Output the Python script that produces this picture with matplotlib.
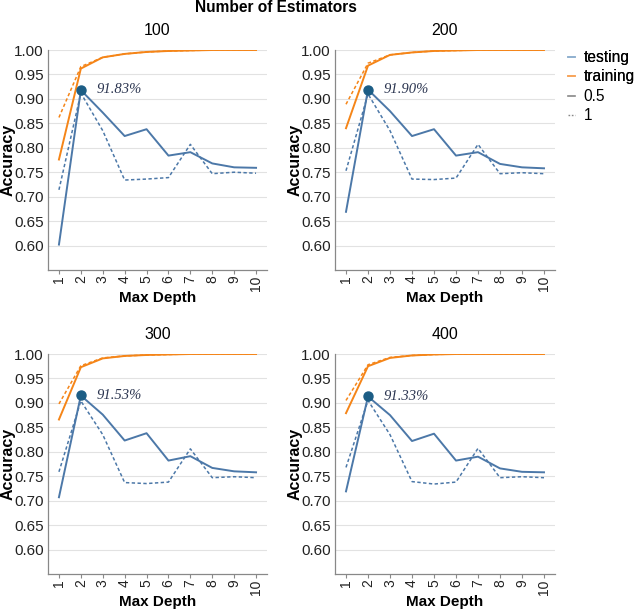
import matplotlib
matplotlib.use("Agg")
import matplotlib.pyplot as plt
from matplotlib.lines import Line2D

plt.rcParams['font.family'] = ['Liberation Sans', 'DejaVu Sans']

depths = [1, 2, 3, 4, 5, 6, 7, 8, 9, 10]
estimators = [100, 200, 300, 400]

# testing accuracy, learning rate 0.5 (solid) and 1 (dashed)
test_05 = {
    100: [0.602, 0.918, 0.872, 0.824, 0.838, 0.784, 0.791, 0.768, 0.760, 0.759],
    200: [0.669, 0.919, 0.875, 0.824, 0.838, 0.784, 0.791, 0.767, 0.760, 0.758],
    300: [0.707, 0.915, 0.876, 0.823, 0.838, 0.782, 0.791, 0.767, 0.760, 0.758],
    400: [0.719, 0.913, 0.875, 0.822, 0.837, 0.782, 0.790, 0.766, 0.759, 0.758],
}
test_1 = {
    100: [0.714, 0.912, 0.835, 0.734, 0.736, 0.739, 0.807, 0.747, 0.750, 0.748],
    200: [0.753, 0.910, 0.835, 0.736, 0.735, 0.738, 0.807, 0.747, 0.749, 0.747],
    300: [0.759, 0.904, 0.835, 0.737, 0.735, 0.738, 0.806, 0.747, 0.749, 0.747],
    400: [0.768, 0.905, 0.835, 0.739, 0.734, 0.738, 0.807, 0.747, 0.749, 0.747],
}
train_05 = {
    100: [0.776, 0.962, 0.985, 0.992, 0.996, 0.998, 0.999, 1.0, 1.0, 1.0],
    200: [0.840, 0.968, 0.990, 0.995, 0.998, 0.999, 1.0, 1.0, 1.0, 1.0],
    300: [0.866, 0.973, 0.991, 0.996, 0.998, 0.999, 1.0, 1.0, 1.0, 1.0],
    400: [0.879, 0.975, 0.992, 0.997, 0.999, 1.0, 1.0, 1.0, 1.0, 1.0],
}
train_1 = {
    100: [0.862, 0.966, 0.985, 0.992, 0.996, 0.998, 0.999, 1.0, 1.0, 1.0],
    200: [0.889, 0.973, 0.990, 0.995, 0.998, 0.999, 1.0, 1.0, 1.0, 1.0],
    300: [0.898, 0.976, 0.992, 0.996, 0.998, 0.999, 1.0, 1.0, 1.0, 1.0],
    400: [0.905, 0.978, 0.993, 0.997, 0.999, 1.0, 1.0, 1.0, 1.0, 1.0],
}
best = {100: 0.9183, 200: 0.9190, 300: 0.9153, 400: 0.9133}

blue = '#4c78a8'
orange = '#f58518'
dot_color = '#1c5d85'

W, H = 635, 613
fig = plt.figure(figsize=(W / 100, H / 100), dpi=100)

# panel boxes in pixels: left, top, right, bottom
boxes = {100: (48, 50, 267, 270), 200: (335, 50, 555, 270),
         300: (48, 354, 267, 574), 400: (335, 354, 555, 574)}

dash = (0, (2.2, 1.6))
for n in estimators:
    l, t, r, b = boxes[n]
    ax = fig.add_axes([l / W, 1 - b / H, (r - l) / W, (b - t) / H])
    ax.plot(depths, test_05[n], color=blue, lw=1.4)
    ax.plot(depths, test_1[n], color=blue, lw=1.1, ls=dash)
    ax.plot(depths, train_05[n], color=orange, lw=1.4)
    ax.plot(depths, train_1[n], color=orange, lw=1.1, ls=dash)
    ax.plot([2], [best[n]], 'o', color=dot_color, ms=6.5, zorder=5)
    ax.annotate('%.2f%%' % (best[n] * 100), (2, best[n]), xytext=(11, 0),
                textcoords='offset points', va='center', ha='left',
                fontsize=10.5, style='italic', family='Liberation Serif',
                color='#2b3550')
    ax.set_xlim(0.5, 10.5)
    ax.set_ylim(0.55, 1.0)
    ax.set_xticks(depths)
    ax.set_xticklabels([str(d) for d in depths], rotation=90, fontsize=10)
    ax.set_yticks([0.60, 0.65, 0.70, 0.75, 0.80, 0.85, 0.90, 0.95, 1.00])
    ax.set_yticklabels(['%.2f' % v for v in ax.get_yticks()], fontsize=11)
    ax.grid(axis='y', color='#e2e2e2', lw=0.8)
    ax.set_axisbelow(True)
    for s in ['top', 'right']:
        ax.spines[s].set_visible(False)
    for s in ['left', 'bottom']:
        ax.spines[s].set_color('#888888')
        ax.spines[s].set_linewidth(0.9)
    ax.tick_params(axis='y', length=0, pad=3, colors='#222222')
    ax.tick_params(axis='x', length=3, color='#888888', pad=1, colors='#222222')
    ax.set_xlabel('Max Depth', fontsize=11, fontweight='bold')
    ax.xaxis.label.set_va('center')
    ax.xaxis.set_label_coords(0.5, -28 / 220)
    ax.set_ylabel('Accuracy', fontsize=11.5, fontweight='bold')
    ax.yaxis.label.set_va('center')
    ax.yaxis.set_label_coords(-40 / 219, 0.5)
    ax.set_title(str(n), fontsize=11.5, pad=11)

fig.text(276 / W, 1 - 8 / H, 'Number of Estimators', ha='center', va='center',
         fontsize=11.2, fontweight='bold')

color_handles = [Line2D([], [], color='#8fb0cf', lw=1.2),
                 Line2D([], [], color='#f7a45a', lw=1.2)]
dash_handles = [Line2D([], [], color='#888888', lw=1.2),
                Line2D([], [], color='#888888', lw=1.0, ls=(0, (1.2, 1.2)))]
leg1 = fig.legend(color_handles, ['testing', 'training'], loc='center left',
                  bbox_to_anchor=(568 / W, 1 - 67 / H), frameon=False,
                  fontsize=11.2, handlelength=0.45, handletextpad=0.55,
                  labelspacing=0.25, borderaxespad=0, borderpad=0)
fig.add_artist(leg1)
fig.legend(dash_handles, ['0.5', '1'], loc='center left',
           bbox_to_anchor=(568 / W, 1 - 106 / H), frameon=False,
           fontsize=11.2, handlelength=0.45, handletextpad=0.55,
           labelspacing=0.25, borderaxespad=0, borderpad=0)

fig.savefig('out.png', dpi=100)
